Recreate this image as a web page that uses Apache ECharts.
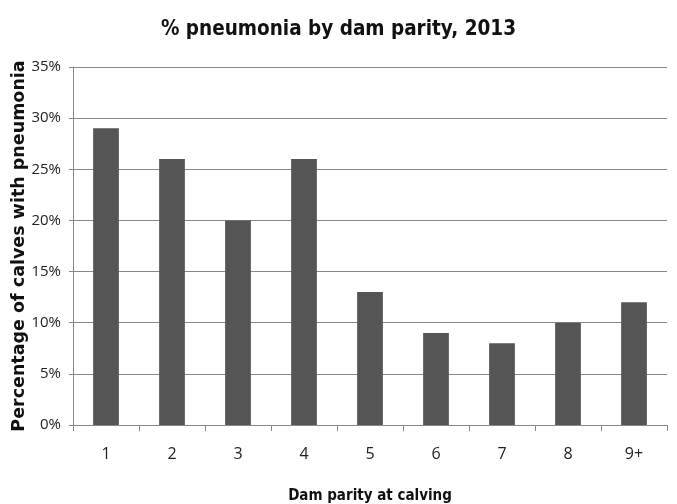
<!DOCTYPE html>
<html><head><meta charset="utf-8">
<script src="https://cdn.jsdelivr.net/npm/echarts@6/dist/echarts.min.js"></script>
<style>html,body{margin:0;padding:0;background:#fff}#c{width:677px;height:504px}</style>
</head><body><div id="c"></div>
<script>
var categories = ['1','2','3','4','5','6','7','8','9+'];
var values = [29, 26, 20, 26, 13, 9, 8, 10, 12];
var yTitle = 'Percentage of calves with pneumonia';
var narrow = '"DejaVu Sans Condensed", sans-serif';
var chart = echarts.init(document.getElementById('c'));
chart.setOption({
  animation: false,
  title: {text: '% pneumonia by dam parity, 2013', left: 'center', top: 14,
    textStyle: {fontFamily: narrow, fontWeight: 'bold', fontSize: 20.5, color: '#111'}},
  grid: {left: 73, right: 10, top: 67, bottom: 79, outerBoundsMode: 'none', containLabel: false},
  graphic: [{type: 'text', x: 19, y: 246, rotation: Math.PI / 2,
    style: {text: yTitle, fontFamily: 'DejaVu Sans', fontWeight: 'bold', fontSize: 17.5, fill: '#111',
      align: 'center', verticalAlign: 'middle'}}],
  xAxis: {type: 'category', data: categories,
    name: 'Dam parity at calving', nameLocation: 'middle', nameGap: 64,
    nameTextStyle: {fontFamily: narrow, fontWeight: 'bold', fontSize: 15, color: '#111'},
    axisLine: {lineStyle: {color: '#888', width: 1}},
    axisTick: {show: true, alignWithLabel: false, length: 6, lineStyle: {color: '#888'}},
    axisLabel: {fontFamily: 'Open Sans', fontSize: 16, color: '#222', margin: 21}},
  yAxis: {type: 'value', min: 0, max: 35, interval: 5,
    axisLine: {show: true, lineStyle: {color: '#888', width: 1}},
    axisTick: {show: true, length: 4, lineStyle: {color: '#888'}},
    axisLabel: {fontFamily: 'Open Sans', fontSize: 15, color: '#222', margin: 12, formatter: '{value}%'},
    splitLine: {lineStyle: {color: '#888', width: 1}}},
  series: [{type: 'bar', data: values, barWidth: '39%',
    itemStyle: {color: '#555555'}}]
});
</script></body></html>
